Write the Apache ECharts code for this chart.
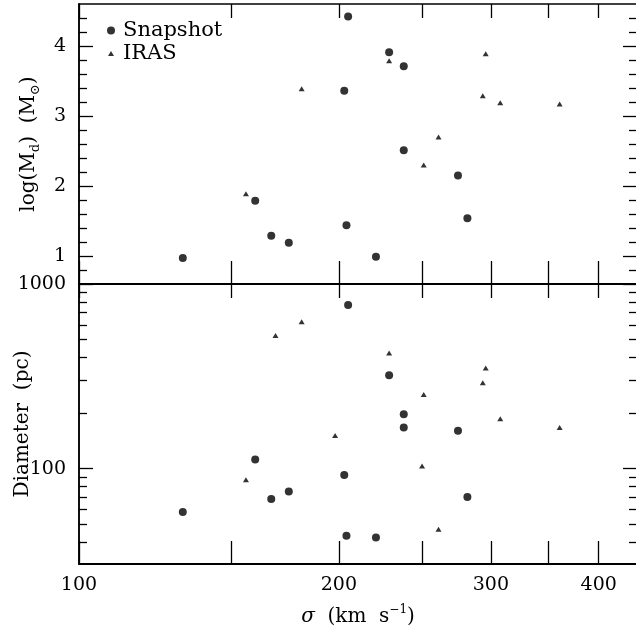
<!DOCTYPE html>
<html><head><meta charset="utf-8">
<script src="https://cdn.jsdelivr.net/npm/echarts@6/dist/echarts.min.js"></script>
<style>html,body{margin:0;padding:0;background:#fff}#c{width:636px;height:628px}</style>
</head><body><div id="c"></div>
<script>
// ---- data ----
const snapSigma = [131.9, 160.0, 167.0, 175.0, 205.0, 228.7, 237.8, 202.9, 237.8, 274.8, 281.8, 204.1, 220.8];
const snapLogMd = [0.97, 1.79, 1.29, 1.19, 4.42, 3.91, 3.71, 3.36, 2.51, 2.15, 1.54, 1.44, 0.99];
const snapDiam  = [58.3, 112.3, 68.6, 75.4, 770, 321, 197.5, 92.5, 167.2, 160.5, 70.3, 43.4, 42.4];

const irasMdSigma = [156.1, 181.1, 228.7, 295.9, 293.6, 307.6, 360.4, 260.9, 250.8];
const irasLogMd   = [1.89, 3.39, 3.79, 3.89, 3.29, 3.19, 3.17, 2.70, 2.30];

const irasDiamSigma = [156.1, 168.9, 181.1, 198.0, 228.7, 249.7, 250.8, 260.9, 293.6, 295.9, 307.6, 360.4];
const irasDiam      = [87.2, 525.6, 625, 151.4, 423.6, 103.4, 252.2, 47.0, 291.6, 351.5, 186.3, 167.2];

// ---- axes ticks / labels ----
const sigmaMin = 100, sigmaMax = 443;
const sigmaTicks = [100, 150, 200, 250, 300, 350, 400];
const sigmaLabels = [100, 200, 300, 400];
const mdMin = 0.6, mdMax = 4.6;
const mdMajor = [1, 2, 3, 4];
const mdMinor = [0.8, 1.2, 1.4, 1.6, 1.8, 2.2, 2.4, 2.6, 2.8, 3.2, 3.4, 3.6, 3.8, 4.2, 4.4];
const diamMin = 30.5, diamMax = 1000;
const diamMajor = [100, 1000];
const diamMinor = [40, 50, 60, 70, 80, 90, 200, 300, 400, 500, 600, 700, 800, 900];

const L = Math.log10;
const FONT = 'DejaVu Serif';
const BLACK = '#000';

const chart = echarts.init(document.getElementById('c'), null, {renderer: 'canvas'});

function xAx(grid, pos, tickLen, lineW, labels, name) {
  const a = {
    type: 'value', gridIndex: grid, position: pos,
    min: L(sigmaMin), max: L(sigmaMax),
    axisLine: {show: true, onZero: false, lineStyle: {color: BLACK, width: lineW}},
    axisTick: {show: true, inside: true, length: tickLen, customValues: sigmaTicks.map(L),
               lineStyle: {color: BLACK, width: 1.3}},
    axisLabel: {show: labels, customValues: sigmaLabels.map(L), margin: 12,
                formatter: v => String(Math.round(Math.pow(10, v))),
                fontFamily: FONT, fontSize: 19, color: BLACK},
    splitLine: {show: false}
  };
  if (name) {
    a.name = name; a.nameLocation = 'middle'; a.nameGap = 40; a.nameMoveOverlap = false;
    a.nameTextStyle = {fontFamily: FONT, fontSize: 20, color: BLACK,
      rich: {
        i: {fontFamily: FONT, fontSize: 20, fontStyle: 'italic', color: BLACK, lineHeight: 26},
        n: {fontFamily: FONT, fontSize: 20, color: BLACK, lineHeight: 26},
        sup: {fontFamily: FONT, fontSize: 12, color: BLACK, verticalAlign: 'top', lineHeight: 26}
      }};
  }
  return a;
}

function yAx(grid, pos, min, max, ticks, tickLen, labelVals, fmt, lineW, name, gap) {
  const a = {
    type: 'value', gridIndex: grid, position: pos, min: min, max: max,
    axisLine: {show: true, onZero: false, lineStyle: {color: BLACK, width: lineW}},
    axisTick: {show: true, inside: true, length: tickLen, customValues: ticks,
               lineStyle: {color: BLACK, width: 1.3}},
    axisLabel: labelVals ? {show: true, customValues: labelVals, margin: 13, formatter: fmt,
                fontFamily: FONT, fontSize: 19, color: BLACK, showMinLabel: true, showMaxLabel: true}
              : {show: false},
    splitLine: {show: false}
  };
  if (name) {
    a.name = name; a.nameLocation = 'middle'; a.nameGap = gap; a.nameRotate = 90;
    a.nameMoveOverlap = false;
    a.nameTextStyle = {fontFamily: FONT, fontSize: 20, color: BLACK,
      rich: {
        n: {fontFamily: FONT, fontSize: 20, color: BLACK, lineHeight: 26},
        sub: {fontFamily: FONT, fontSize: 13, color: BLACK, verticalAlign: 'bottom', lineHeight: 26}
      }};
  }
  return a;
}

const mdFmt = v => String(Math.round(v));
const dFmt = v => String(Math.round(Math.pow(10, v)));

const option = {
  backgroundColor: '#fff',
  animation: false,
  grid: [
    {left: 79, top: 4, width: 558, height: 280, containLabel: false, outerBoundsMode: 'none'},
    {left: 79, top: 284, width: 558, height: 280, containLabel: false, outerBoundsMode: 'none'}
  ],
  legend: [
    {data: [{name: 'Snapshot', icon: 'circle'}], orient: 'vertical', left: 107, top: 20, padding: 0,
     itemWidth: 8, itemHeight: 8, selectedMode: false,
     textStyle: {fontFamily: FONT, fontSize: 21, color: BLACK, padding: [0, 0, 0, 3]}},
    {data: [{name: 'IRAS', icon: 'triangle'}], orient: 'vertical', left: 108, top: 43, padding: 0,
     itemWidth: 6, itemHeight: 5, selectedMode: false,
     textStyle: {fontFamily: FONT, fontSize: 21, color: BLACK, padding: [0, 0, 0, 4]}}
  ],
  xAxis: [
    xAx(0, 'bottom', 23, 2, false),
    xAx(0, 'top', 14, 1.5, false),
    xAx(1, 'bottom', 23, 2, true, '{i|σ}{n|  (km  s}{sup|−1}{n|)}'),
    xAx(1, 'top', 14, 2, false)
  ],
  yAxis: [
    yAx(0, 'left', mdMin, mdMax, mdMajor, 14, mdMajor, mdFmt, 1.5, '{n|log(M}{sub|d}{n|)  (M}{sub|⊙}{n|)}', 37),
    yAx(0, 'left', mdMin, mdMax, mdMinor, 8, null, null, 1.5),
    yAx(0, 'right', mdMin, mdMax, mdMajor, 14, null, null, 1.5),
    yAx(0, 'right', mdMin, mdMax, mdMinor, 8, null, null, 1.5),
    yAx(1, 'left', L(diamMin), L(diamMax), diamMajor.map(L), 14, diamMajor.map(L), dFmt, 1.5, 'Diameter  (pc)', 46),
    yAx(1, 'left', L(diamMin), L(diamMax), diamMinor.map(L), 8, null, null, 1.5),
    yAx(1, 'right', L(diamMin), L(diamMax), diamMajor.map(L), 14, null, null, 1.5),
    yAx(1, 'right', L(diamMin), L(diamMax), diamMinor.map(L), 8, null, null, 1.5)
  ],
  series: [
    {name: 'Snapshot', type: 'scatter', xAxisIndex: 0, yAxisIndex: 0, symbol: 'circle', symbolSize: 8,
     itemStyle: {color: BLACK}, data: snapSigma.map((s, i) => [L(s), snapLogMd[i]])},
    {name: 'IRAS', type: 'scatter', xAxisIndex: 0, yAxisIndex: 0, symbol: 'triangle', symbolSize: [6, 5],
     itemStyle: {color: BLACK}, data: irasMdSigma.map((s, i) => [L(s), irasLogMd[i]])},
    {name: 'Snapshot', type: 'scatter', xAxisIndex: 2, yAxisIndex: 4, symbol: 'circle', symbolSize: 8,
     itemStyle: {color: BLACK}, data: snapSigma.map((s, i) => [L(s), L(snapDiam[i])])},
    {name: 'IRAS', type: 'scatter', xAxisIndex: 2, yAxisIndex: 4, symbol: 'triangle', symbolSize: [6, 5],
     itemStyle: {color: BLACK}, data: irasDiamSigma.map((s, i) => [L(s), L(irasDiam[i])])}
  ]
};
chart.setOption(option);
</script>
</body></html>
